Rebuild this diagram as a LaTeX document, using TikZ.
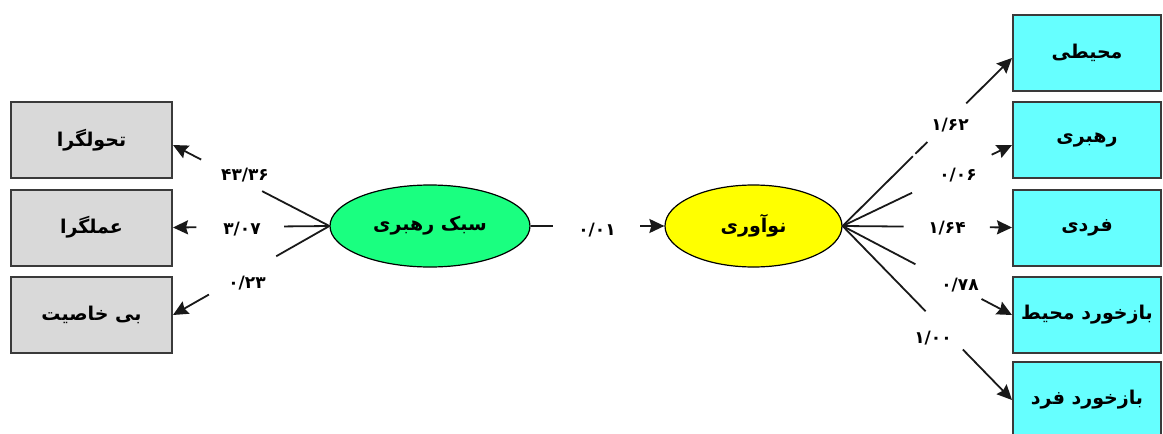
\documentclass[tikz,border=0pt]{standalone}
\usepackage{fontspec}
\usetikzlibrary{arrows.meta,calc,shapes.geometric}
\TeXXeTstate=1
\newfontfamily\arabicfont[Script=Arabic]{DejaVu Sans}
\newfontfamily\numfont{DejaVu Sans}
\definecolor{boxgray}{HTML}{D9D9D9}
\definecolor{boxcyan}{HTML}{66FFFF}
\definecolor{ellgreen}{HTML}{1AFF80}
\definecolor{ellyellow}{HTML}{FFFF00}
\definecolor{edgegray}{HTML}{3A3A3A}
\tikzset{
  basebox/.style={draw=edgegray, line width=2pt, inner sep=0pt, font=\arabicfont\bfseries\fontsize{19}{22}\selectfont},
  lbox/.style={basebox, fill=boxgray, minimum width=161pt, minimum height=76pt},
  rbox/.style={basebox, fill=boxcyan, minimum width=148pt, minimum height=76pt},
  ell/.style={ellipse, draw=black, line width=1.2pt, inner sep=0pt, font=\arabicfont\bfseries\fontsize{19}{22}\selectfont},
  ln/.style={line width=1.8pt, black!90},
  arr/.style={ln, -{Stealth[length=15pt,width=14pt,inset=2pt]}},
  num/.style={font=\numfont\bfseries\fontsize{17}{20}\selectfont, inner sep=1pt}
}
\begin{document}
\begin{tikzpicture}[x=1pt,y=-1pt]
\useasboundingbox (0,0) rectangle (1163,434);
% left boxes
\node[lbox] (b1) at (91.5,140) {\beginR تحولگرا\endR};
\node[lbox] (b2) at (91.5,227.5) {\beginR عملگرا\endR};
\node[lbox] (b3) at (91.5,315) {\beginR بی خاصیت\endR};
% right boxes
\node[rbox] (c1) at (1087,53) {\beginR محیطی\endR};
\node[rbox] (c2) at (1087,140) {\beginR رهبری\endR};
\node[rbox] (c3) at (1087,227.5) {\beginR فردی\endR};
\node[rbox] (c4) at (1087,315) {\beginR بازخورد محیط\endR};
\node[rbox] (c5) at (1087,400) {\beginR بازخورد فرد\endR};
% ellipses
\node[ell, fill=ellgreen, minimum width=200pt, minimum height=82pt] (e1) at (430,226) {\beginR سبک رهبری\endR};
\node[ell, fill=ellyellow, minimum width=177pt, minimum height=82pt] (e2) at (753.5,226) {\beginR نوآوری\endR};
% arrow end points
\coordinate (t1) at ([yshift=-5pt]b1.east);
\coordinate (u1) at ([yshift=-5pt]c1.west);
\coordinate (u2) at ([yshift=-5pt]c2.west);
% left connectors
\draw[ln] (e1.west) -- ($(e1.west)!0.43!(t1)$);
\draw[arr] ($(e1.west)!0.82!(t1)$) -- (t1);
\draw[ln] (e1.west) -- ($(e1.west)!0.29!(b2.east)$);
\draw[arr] ($(e1.west)!0.85!(b2.east)$) -- (b2.east);
\draw[ln] (e1.west) -- ($(e1.west)!0.34!(b3.east)$);
\draw[arr] ($(e1.west)!0.77!(b3.east)$) -- (b3.east);
% middle
\draw[ln] (e1.east) -- ($(e1.east)!0.17!(e2.west)$);
\draw[arr] ($(e1.east)!0.82!(e2.west)$) -- (e2.west);
% right connectors
\draw[ln] (e2.east) -- ($(e2.east)!0.415!(u1)$);
\draw[ln] ($(e2.east)!0.43!(u1)$) -- ($(e2.east)!0.50!(u1)$);
\draw[arr] ($(e2.east)!0.73!(u1)$) -- (u1);
\draw[ln] (e2.east) -- ($(e2.east)!0.41!(u2)$);
\draw[arr] ($(e2.east)!0.88!(u2)$) -- (u2);
\draw[ln] (e2.east) -- ($(e2.east)!0.36!(c3.west)$);
\draw[arr] ($(e2.east)!0.87!(c3.west)$) -- (c3.west);
\draw[ln] (e2.east) -- ($(e2.east)!0.43!(c4.west)$);
\draw[arr] ($(e2.east)!0.82!(c4.west)$) -- (c4.west);
\draw[ln] (e2.east) -- ($(e2.east)!0.49!(c5.west)$);
\draw[arr] ($(e2.east)!0.71!(c5.west)$) -- (c5.west);
% labels
\node[num] (n1) at (245,175) {۴۳/۳۶};
\node[num] (n2) at (242,229) {۳/۰۷};
\node[num] (n3) at (247,283) {۰/۲۳};
\node[num] (n4) at (597,230) {۰/۰۱};
\node[num] (n5) at (950,125) {۱/۶۲};
\node[num] (n6) at (958,175) {۰/۰۶};
\node[num] (n7) at (947,228) {۱/۶۴};
\node[num] (n8) at (960,285) {۰/۷۸};
\node[num] (n9) at (933,338) {۱/۰۰};
\end{tikzpicture}
\end{document}
